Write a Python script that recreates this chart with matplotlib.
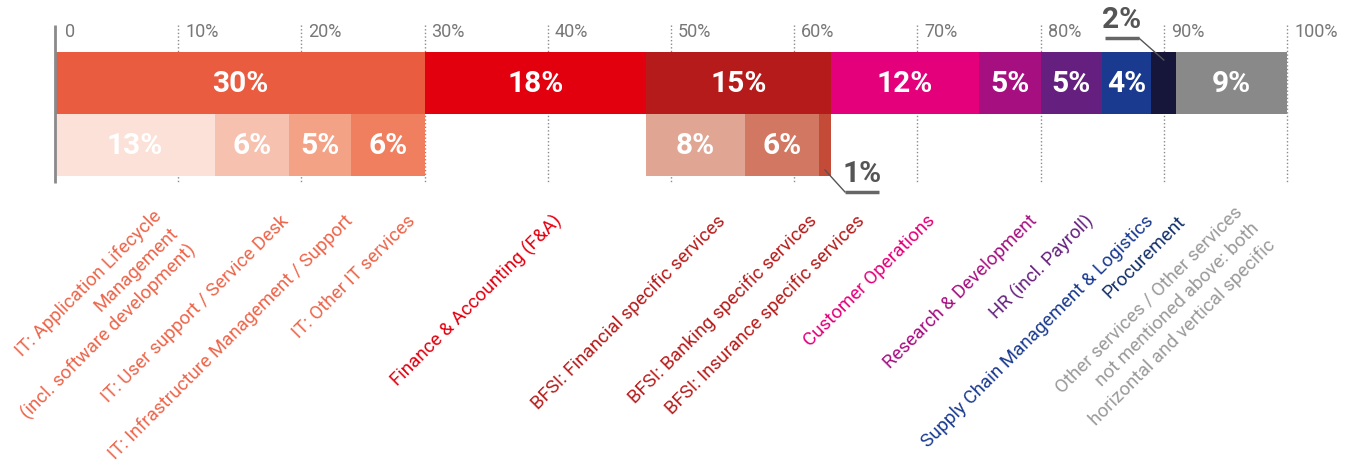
import matplotlib
matplotlib.use("Agg")
import matplotlib.pyplot as plt

# ---- data -------------------------------------------------------------
main_categories = ["IT", "Finance & Accounting (F&A)", "BFSI", "Customer Operations",
                   "Research & Development", "HR (incl. Payroll)",
                   "Supply Chain Management & Logistics", "Procurement", "Other services"]
main_values = [30, 18, 15, 12, 5, 5, 4, 2, 9]
main_colors = ["#EA5C3F", "#E2000F", "#B51B1A", "#E3007A", "#A50F80",
               "#65207F", "#1A3A90", "#15163A", "#898989"]

it_sub_categories = ["IT: Application Lifecycle\nManagement\n(incl. software development)",
                     "IT: User support / Service Desk",
                     "IT: Infrastructure Management / Support",
                     "IT: Other IT services"]
it_sub_values = [13, 6, 5, 6]
it_sub_colors = ["#FBE1D7", "#F6C1AF", "#F3A286", "#F07F60"]

bfsi_sub_categories = ["BFSI: Financial specific services",
                       "BFSI: Banking specific services",
                       "BFSI: Insurance specific services"]
bfsi_sub_values = [8, 6, 1]
bfsi_sub_colors = ["#E0A693", "#D27862", "#C34B37"]

tick_values = [0, 10, 20, 30, 40, 50, 60, 70, 80, 90, 100]
tick_labels = ["0", "10%", "20%", "30%", "40%", "50%", "60%", "70%", "80%", "90%", "100%"]

bottom_labels = (it_sub_categories + ["Finance & Accounting (F&A)"] + bfsi_sub_categories +
                 ["Customer Operations", "Research & Development", "HR (incl. Payroll)",
                  "Supply Chain Management & Logistics", "Procurement",
                  "Other services / Other services\nnot mentioned above: both\nhorizontal and vertical specific"])
bottom_label_colors = (["#EC654A"] * 4 + ["#E2000F"] + ["#B51B1A"] * 3 +
                       ["#E3007A", "#A50F80", "#65207F", "#1A3A90", "#12306B", "#9A9A9A"])

# ---- layout -----------------------------------------------------------
W, H = 1349, 463
X0, PX_PER_PCT = 55, 12.32           # pixel position of 0 % and scale
def px(dx):
    return dx / PX_PER_PCT

TOP_Y, BAR_H = 83, 62                # main bar centre / height (pixels from top)
SUB_Y = TOP_Y + BAR_H                # sub bar centre

label_anchor_x = [7.9, 18.2, 23.4, 28.5, 40.4, 53.7, 61.1, 65.0,
                  70.7, 79.0, 83.5, 88.4, 91.0, 95.6]
label_anchor_y = [207, 212, 212, 212, 211, 212, 212, 212,
                  212, 212, 212, 212, 212, 203]

plt.rcParams["font.family"] = ["Roboto", "DejaVu Sans"]

fig = plt.figure(figsize=(W / 100, H / 100), dpi=100)
ax = fig.add_axes([0, 0, 1, 1])
ax.set_xlim(-X0 / PX_PER_PCT, (W - X0) / PX_PER_PCT)
ax.set_ylim(H, 0)
ax.axis("off")

# grid lines and tick labels
for t, lab in zip(tick_values, tick_labels):
    if t == 0:
        ax.plot([t, t], [25, 183], color="#8a8a8a", lw=2, zorder=5,
                solid_capstyle="butt")
        off = px(10)
    else:
        ax.plot([t, t], [25, 183], color="#8a8a8a", lw=1,
                linestyle=(0, (1, 1.6)), zorder=1)
        off = px(7)
    ax.text(t + off, 32, lab, fontsize=13, color="#777777", ha="left",
            va="center")

def segments(values, start, y, colors):
    lefts = []
    acc = start
    for v in values:
        lefts.append(acc)
        acc += v
    ax.barh([y] * len(values), values, left=lefts, height=BAR_H,
            color=colors, edgecolor="none", zorder=2)
    return lefts

# main bar
main_lefts = segments(main_values, 0, TOP_Y, main_colors)
for left, v in zip(main_lefts, main_values):
    if v >= 3:
        ax.text(left + v / 2, TOP_Y + 1, f"{v}%", color="white", fontsize=21.5,
                fontweight="bold", ha="center", va="center", zorder=3)

# sub bars
it_lefts = segments(it_sub_values, main_lefts[0], SUB_Y, it_sub_colors)
bfsi_lefts = segments(bfsi_sub_values, main_lefts[2], SUB_Y, bfsi_sub_colors)
for left, v in zip(it_lefts + bfsi_lefts, it_sub_values + bfsi_sub_values):
    if v >= 3:
        ax.text(left + v / 2, SUB_Y + 1, f"{v}%", color="white", fontsize=21.5,
                fontweight="bold", ha="center", va="center", zorder=3)

# callout for the small Procurement segment
pi = 7
tip_x = main_lefts[pi] + main_values[pi] / 2
elbow_x = tip_x - px(25)
ax.plot([tip_x, elbow_x], [TOP_Y - BAR_H / 2 + 8, 38], color="#555555", lw=1, zorder=4)
ax.plot([elbow_x, elbow_x - px(34)], [38, 38], color="#666666", lw=2.5,
        solid_capstyle="butt", zorder=4)
ax.text(elbow_x - px(17), 34.5, f"{main_values[pi]}%", color="#555555",
        fontsize=21.5, fontweight="bold", ha="center", va="bottom")

# callout for the small Insurance segment
bi = 2
tip_x = bfsi_lefts[bi] + bfsi_sub_values[bi] / 2
elbow_x = tip_x + px(20)
ax.plot([tip_x, elbow_x], [SUB_Y + BAR_H / 2 - 6, 192], color="#555555", lw=1, zorder=4)
ax.plot([elbow_x, elbow_x + px(34)], [192, 192], color="#666666", lw=2.5,
        solid_capstyle="butt", zorder=4)
ax.text(elbow_x + px(17), 188.5, f"{bfsi_sub_values[bi]}%", color="#555555",
        fontsize=21.5, fontweight="bold", ha="center", va="bottom")

# rotated category labels
for lab, c, x, y in zip(bottom_labels, bottom_label_colors, label_anchor_x, label_anchor_y):
    ax.text(x, y, lab, color=c, fontsize=13.5, rotation=45, rotation_mode="anchor",
            ha="right", va="top", multialignment="right", linespacing=1.4)

fig.savefig("out.png", dpi=100)
